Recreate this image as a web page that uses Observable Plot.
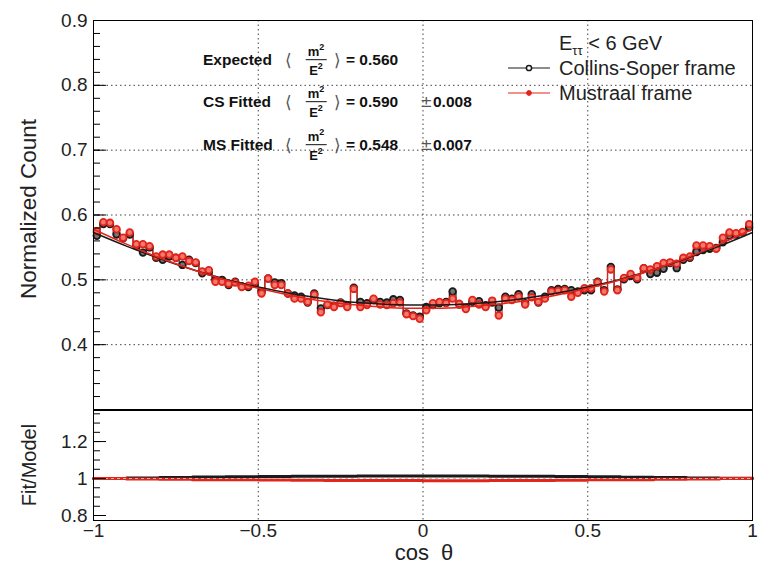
<!DOCTYPE html>
<html><head><meta charset="utf-8">
<script src="https://cdn.jsdelivr.net/npm/d3@7"></script>
<script src="https://cdn.jsdelivr.net/npm/@observablehq/plot@0.6"></script>
<style>
body{margin:0;background:#fff;font-family:"Liberation Sans",Arial,sans-serif;color:#222;}
#wrap{position:relative;width:760px;height:565px;overflow:hidden;background:#fff;}
#top,#bot{position:absolute;left:0;}
#top{top:0;} #bot{top:409px;}
.t{position:absolute;white-space:pre;transform:translate(0,-50%);line-height:1;}
.b{font-weight:bold;font-size:15px;color:#111;}
.br{font-weight:normal;font-size:17px;color:#555;font-family:"DejaVu Sans",sans-serif;}
.frac{position:absolute;transform:translate(-50%,-50%);font-weight:bold;font-size:13px;text-align:center;color:#111;line-height:1;}
.frac .num{display:block;padding:0 2px 2px 2px;border-bottom:1px solid #111;}
.frac .den{display:block;padding-top:2px;}
</style></head>
<body><div id="wrap"><div id="top"></div><div id="bot"></div></div>
<script>
// ---- data ----
const binStart = -1, binWidth = 0.02;
const csCounts = [
0.568,0.586,0.586,0.570,0.564,0.570,0.552,0.542,0.550,0.534,
0.531,0.536,0.534,0.523,0.531,0.526,0.510,0.513,0.500,0.500,
0.492,0.497,0.490,0.489,0.494,0.482,0.502,0.496,0.495,0.479,
0.476,0.474,0.465,0.479,0.456,0.461,0.460,0.465,0.461,0.488,
0.466,0.464,0.469,0.466,0.465,0.470,0.469,0.448,0.445,0.443,
0.458,0.461,0.464,0.466,0.482,0.462,0.457,0.466,0.467,0.461,
0.465,0.457,0.474,0.471,0.478,0.464,0.478,0.465,0.474,0.484,
0.486,0.486,0.484,0.482,0.484,0.484,0.497,0.484,0.520,0.485,
0.501,0.506,0.501,0.518,0.509,0.511,0.517,0.526,0.518,0.531,
0.534,0.543,0.546,0.548,0.549,0.558,0.568,0.570,0.573,0.581];
const msCounts = [
0.575,0.589,0.588,0.578,0.565,0.573,0.555,0.555,0.552,0.536,
0.539,0.539,0.534,0.536,0.529,0.527,0.513,0.515,0.497,0.497,
0.494,0.496,0.489,0.491,0.497,0.479,0.502,0.492,0.492,0.479,
0.471,0.471,0.466,0.477,0.450,0.462,0.458,0.464,0.458,0.486,
0.458,0.461,0.471,0.462,0.461,0.464,0.465,0.447,0.444,0.440,
0.453,0.464,0.466,0.464,0.471,0.463,0.455,0.469,0.462,0.458,
0.468,0.445,0.471,0.469,0.474,0.462,0.473,0.466,0.471,0.482,
0.483,0.484,0.474,0.480,0.487,0.487,0.496,0.482,0.516,0.484,
0.503,0.509,0.503,0.518,0.516,0.521,0.526,0.527,0.525,0.534,
0.536,0.553,0.553,0.552,0.548,0.565,0.573,0.572,0.574,0.586];
const fitX  = [-1,-0.9,-0.8,-0.7,-0.6,-0.5,-0.4,-0.3,-0.2,-0.1,0,0.1,0.2,0.3,0.4,0.5,0.6,0.7,0.8,0.9,1];
const csFit = [0.573,0.552,0.533,0.516,0.501,0.489,0.479,0.471,0.465,0.462,0.461,0.462,0.465,0.471,0.479,0.489,0.501,0.516,0.533,0.552,0.573];
const msFit = [0.578,0.555,0.534,0.516,0.500,0.487,0.476,0.467,0.461,0.457,0.456,0.457,0.461,0.467,0.476,0.487,0.500,0.516,0.534,0.555,0.578];
const ratioStart = -1, ratioWidth = 0.1;
const csRatio = [1.000,1.003,1.006,1.008,1.010,1.011,1.012,1.013,1.014,1.014,1.014,1.014,1.013,1.012,1.011,1.009,1.007,1.005,1.003,1.001];
const msRatio = [1.000,0.998,0.996,0.994,0.993,0.992,0.991,0.990,0.989,0.989,0.988,0.988,0.989,0.990,0.991,0.993,0.994,0.996,0.998,1.000];
const yMajor = [0.3,0.4,0.5,0.6,0.7,0.8,0.9];
const yLabels = [0.4,0.5,0.6,0.7,0.8,0.9];
const yGrid = [0.4,0.5,0.6,0.7,0.8];
const xGrid = [-0.5,0,0.5];
const rMajor = [0.8,1,1.2];
const xTicks = [-1,-0.5,0,0.5,1];
const legendTitle = ["E","ττ"," < 6 GeV"];
const legendNames = ["Collins-Soper frame","Mustraal frame"];
const annLabels = ["Expected","CS Fitted","MS Fitted"];
const annValues = ["0.560","0.590","0.548"];
const annErrors = [null,"0.008","0.007"];
const yTitle = "Normalized Count", rTitle = "Fit/Model", xTitle = "cos  θ";

// ---- helpers ----
const steps = (vals, x0, w) => vals.flatMap((v,i)=>[{x:x0+i*w,y:v},{x:x0+(i+1)*w,y:v}]);
const centers = (vals, x0, w) => vals.map((v,i)=>({x:x0+(i+0.5)*w,y:v}));
const curve = (xs, ys) => xs.map((x,i)=>({x, y:ys[i]}));
const fmt = d => (d < 0 ? "\u2212" : "") + String(Math.abs(d));
const BLACK = "#1a1a1a", RED = "#e3241b";
const dotted = {stroke:"#444", strokeDasharray:"1.5,3", strokeWidth:1};
const font = {fontFamily:"'Liberation Sans', Arial, sans-serif", fontSize:"19px", color:"#222", background:"transparent"};
const yMinor = d3.range(0.3, 0.9001, 0.02).map(d=>+d.toFixed(2));
const rMinor = d3.range(0.8, 1.36, 0.05).map(d=>+d.toFixed(2));
const W = 760, ML = 93, MR = 8, PW = W - ML - MR;

const topPlot = Plot.plot({
  width:W, height:411, marginLeft:ML, marginRight:MR, marginTop:20, marginBottom:2,
  style: font,
  x:{domain:[-1,1], axis:null},
  y:{domain:[0.3,0.9]},
  marks:[
    Plot.ruleY(yGrid, dotted),
    Plot.ruleX(xGrid, dotted),
    Plot.line(steps(csCounts, binStart, binWidth), {x:"x", y:"y", stroke:BLACK, strokeWidth:1.2}),
    Plot.line(steps(msCounts, binStart, binWidth), {x:"x", y:"y", stroke:RED, strokeWidth:1.2}),
    Plot.dot(centers(csCounts, binStart, binWidth), {x:"x", y:"y", r:3.3, stroke:BLACK, strokeWidth:1.8, fill:"#777"}),
    Plot.dot(centers(msCounts, binStart, binWidth), {x:"x", y:"y", r:3.3, stroke:RED, strokeWidth:1.8, fill:"#f07a6e"}),
    Plot.line(curve(fitX, csFit), {x:"x", y:"y", curve:"natural", stroke:BLACK, strokeWidth:1.5}),
    Plot.line(curve(fitX, msFit), {x:"x", y:"y", curve:"natural", stroke:RED, strokeWidth:1.5}),
    Plot.ruleY(yMinor, {stroke:"#000", insetRight: PW - 7}),
    Plot.ruleY(yMajor, {stroke:"#000", insetRight: PW - 13}),
    Plot.axisY(yLabels, {anchor:"left", tickSize:0, tickPadding:6, tickFormat:d3.format(".1f"), label:null}),
    Plot.frame({stroke:"#000"})
  ]
});
document.getElementById("top").appendChild(topPlot);

const botPlot = Plot.plot({
  width:W, height:156, marginLeft:ML, marginRight:MR, marginTop:1, marginBottom:45,
  style: font,
  x:{domain:[-1,1]},
  y:{domain:[0.773,1.368]},
  marks:[
    Plot.ruleX(xGrid, dotted),
    Plot.line(steps(csRatio, ratioStart, ratioWidth), {x:"x", y:"y", stroke:BLACK, strokeWidth:3}),
    Plot.line(steps(msRatio, ratioStart, ratioWidth), {x:"x", y:"y", stroke:RED, strokeWidth:3}),
    Plot.ruleY([1], {stroke:"#bbb", strokeDasharray:"3,3", strokeWidth:1}),
    Plot.ruleY(rMinor, {stroke:"#000", insetRight: PW - 7}),
    Plot.ruleY(rMajor, {stroke:"#000", insetRight: PW - 13}),
    Plot.axisY(rMajor, {anchor:"left", tickSize:0, tickPadding:6, tickFormat:fmt, label:null}),
    Plot.axisX(xTicks, {anchor:"bottom", tickSize:0, tickPadding:3, tickFormat:fmt, label:null}),
    Plot.frame({stroke:"#000"})
  ]
});
document.getElementById("bot").appendChild(botPlot);

// ---- overlay text ----
const wrap = document.getElementById("wrap");
function put(html, x, y, cls, style){
  const d = document.createElement("div");
  d.className = "t " + (cls||"");
  d.innerHTML = html;
  d.style.left = x + "px"; d.style.top = y + "px";
  if (style) Object.assign(d.style, style);
  wrap.appendChild(d);
  return d;
}
put(yTitle, 29, 209, "", {fontSize:"22.5px", transform:"translate(-50%,-50%) rotate(-90deg)"});
put(rTitle, 29, 465, "", {fontSize:"20px", transform:"translate(-50%,-50%) rotate(-90deg)"});
put(xTitle, 424, 553, "", {fontSize:"22px", transform:"translate(-50%,-50%)"});

// legend
put(legendTitle[0] + '<span style="font-size:13px;position:relative;top:5px">' + legendTitle[1] + '</span>' + legendTitle[2], 559, 43, "", {fontSize:"20px"});
const legY = [68, 93], legCol = [BLACK, RED];
legendNames.forEach((n,i)=>{
  put(n, 559, legY[i], "", {fontSize:"20px"});
  const s = document.createElementNS("http://www.w3.org/2000/svg","svg");
  s.setAttribute("width","50"); s.setAttribute("height","12");
  s.style.position="absolute"; s.style.left="504px"; s.style.top=(legY[i]-6)+"px";
  s.innerHTML = `<line x1="4" x2="46" y1="6" y2="6" stroke="${legCol[i]}" stroke-width="1.2"/>` +
    (i===0 ? `<circle cx="25" cy="6" r="2.6" fill="#fff" stroke="${BLACK}" stroke-width="1.5"/>`
           : `<circle cx="25" cy="6" r="2.4" fill="${RED}" stroke="${RED}"/>`);
  wrap.appendChild(s);
});

// annotations
const annY = [60, 102, 145];
annLabels.forEach((lab,i)=>{
  const y = annY[i];
  put(lab, 203, y, "b", {fontSize:"15.5px"});
  put("⟨", 285, y, "br");
  const f = document.createElement("div");
  f.className = "frac";
  f.innerHTML = '<span class="num">m<sup style="font-size:9px">2</sup></span><span class="den">E<sup style="font-size:9px">2</sup></span>';
  f.style.left = "316px"; f.style.top = y + "px";
  wrap.appendChild(f);
  put("⟩", 334, y, "br");
  put("= " + annValues[i], 346, y, "b", {fontSize:"15.5px"});
  if (annErrors[i]) {
    put("±", 420, y, "br", {fontSize:"15px"});
    put(annErrors[i], 433, y, "b", {fontSize:"15.5px"});
  }
});
</script>
</body></html>
